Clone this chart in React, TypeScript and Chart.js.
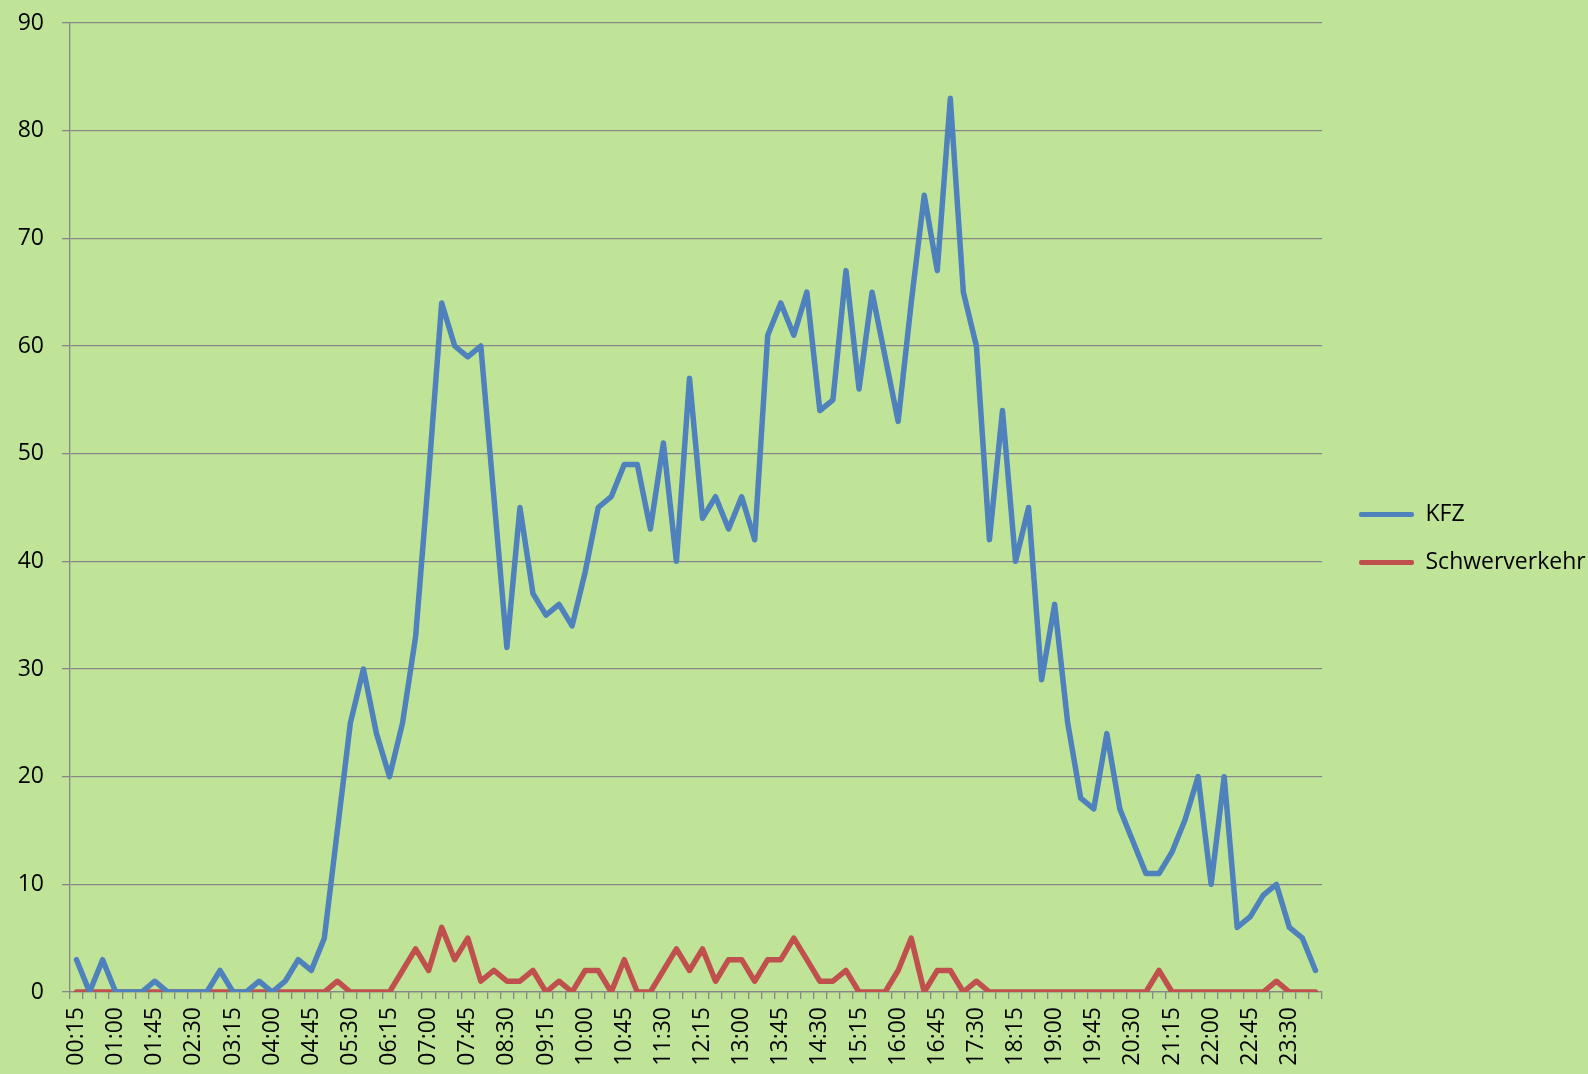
import { useEffect, useRef } from 'react';
import { Chart, registerables } from 'chart.js';

Chart.register(...registerables);

const timeLabels = [
  '00:15', '00:30', '00:45', '01:00', '01:15', '01:30', '01:45', '02:00',
  '02:15', '02:30', '02:45', '03:00', '03:15', '03:30', '03:45', '04:00',
  '04:15', '04:30', '04:45', '05:00', '05:15', '05:30', '05:45', '06:00',
  '06:15', '06:30', '06:45', '07:00', '07:15', '07:30', '07:45', '08:00',
  '08:15', '08:30', '08:45', '09:00', '09:15', '09:30', '09:45', '10:00',
  '10:15', '10:30', '10:45', '11:00', '11:15', '11:30', '11:45', '12:00',
  '12:15', '12:30', '12:45', '13:00', '13:15', '13:30', '13:45', '14:00',
  '14:15', '14:30', '14:45', '15:00', '15:15', '15:30', '15:45', '16:00',
  '16:15', '16:30', '16:45', '17:00', '17:15', '17:30', '17:45', '18:00',
  '18:15', '18:30', '18:45', '19:00', '19:15', '19:30', '19:45', '20:00',
  '20:15', '20:30', '20:45', '21:00', '21:15', '21:30', '21:45', '22:00',
  '22:15', '22:30', '22:45', '23:00', '23:15', '23:30', '23:45', '00:00',
];

const kfz = [
  3, 0, 3, 0, 0, 0, 1, 0, 0, 0, 0, 2, 0, 0, 1, 0, 1, 3, 2, 5,
  15, 25, 30, 24, 20, 25, 33, 48, 64, 60, 59, 60, 46, 32, 45, 37, 35, 36, 34, 39,
  45, 46, 49, 49, 43, 51, 40, 57, 44, 46, 43, 46, 42, 61, 64, 61, 65, 54, 55, 67,
  56, 65, 59, 53, 64, 74, 67, 83, 65, 60, 42, 54, 40, 45, 29, 36, 25, 18, 17, 24,
  17, 14, 11, 11, 13, 16, 20, 10, 20, 6, 7, 9, 10, 6, 5, 2,
];

const schwerverkehr = [
  0, 0, 0, 0, 0, 0, 0, 0, 0, 0, 0, 0, 0, 0, 0, 0, 0, 0, 0, 0,
  1, 0, 0, 0, 0, 2, 4, 2, 6, 3, 5, 1, 2, 1, 1, 2, 0, 1, 0, 2,
  2, 0, 3, 0, 0, 2, 4, 2, 4, 1, 3, 3, 1, 3, 3, 5, 3, 1, 1, 2,
  0, 0, 0, 2, 5, 0, 2, 2, 0, 1, 0, 0, 0, 0, 0, 0, 0, 0, 0, 0,
  0, 0, 0, 2, 0, 0, 0, 0, 0, 0, 0, 0, 1, 0, 0, 0,
];

const seriesNames = ['KFZ', 'Schwerverkehr'];
const seriesColors = ['#4F81BD', '#C0504D'];
const yMin = 0;
const yMax = 90;
const yStep = 10;
const labelEvery = 3;

const FONT = "'Open Sans', sans-serif";
const GRID = '#878787';
const BG = '#C0E497';

export default function App() {
  const ref = useRef<HTMLCanvasElement>(null);

  useEffect(() => {
    Chart.defaults.font.family = FONT;
    const chart = new Chart(ref.current as HTMLCanvasElement, {
      type: 'line',
      data: {
        labels: timeLabels,
        datasets: [kfz, schwerverkehr].map((d, i) => ({
          label: seriesNames[i],
          data: d,
          borderColor: seriesColors[i],
          backgroundColor: seriesColors[i],
          borderWidth: 5.5,
          pointRadius: 0,
          pointHoverRadius: 0,
          tension: 0,
          borderJoinStyle: 'round',
          borderCapStyle: 'round',
          fill: false,
        })),
      },
      options: {
        responsive: false,
        animation: false,
        layout: { padding: { top: 23, left: 0, right: 0, bottom: 0 } },
        plugins: {
          tooltip: { enabled: false },
          legend: {
            position: 'right',
            fullSize: false,
            maxWidth: 254,
            title: { display: true, text: '', padding: 25, font: { size: 10 } },
            labels: {
              boxWidth: 55,
              boxHeight: 5,
              padding: 25,
              color: '#000',
              font: { size: 23, family: FONT },
              generateLabels: (c: any) =>
                c.data.datasets.map((ds: any, i: number) => ({
                  text: ds.label,
                  fillStyle: ds.borderColor,
                  strokeStyle: ds.borderColor,
                  lineWidth: 0,
                  borderRadius: 2,
                  hidden: false,
                  datasetIndex: i,
                  fontColor: '#000',
                })),
            },
          },
        },
        scales: {
          x: {
            offset: true,
            grid: {
              offset: true,
              drawOnChartArea: false,
              drawTicks: true,
              tickLength: 7,
              color: GRID,
              lineWidth: 1.3,
            },
            border: { color: GRID, width: 1.3 },
            ticks: {
              autoSkip: false,
              maxRotation: 90,
              minRotation: 90,
              padding: 8,
              color: '#000',
              font: { size: 23, family: FONT },
              callback: (_v: any, idx: number) => (idx % labelEvery === 0 ? timeLabels[idx] : ''),
            },
            afterFit: (s: any) => {
              s.height = 82;
            },
          },
          y: {
            min: yMin,
            max: yMax,
            grid: { color: GRID, lineWidth: 1.3, tickLength: 8 },
            border: { color: GRID, width: 1.3 },
            ticks: {
              stepSize: yStep,
              padding: 18,
              color: '#000',
              font: { size: 23, family: FONT },
            },
            afterFit: (s: any) => {
              s.width = 70;
              s.paddingTop = 0;
              s.paddingBottom = 0;
            },
          },
          yGap: {
            type: 'linear',
            position: 'right',
            display: true,
            grid: { display: false },
            ticks: { display: false },
            border: { display: false },
            afterFit: (s: any) => {
              s.width = 12;
            },
          },
        },
      } as any,
    });
    return () => chart.destroy();
  }, []);

  return (
    <div
      style={{
        position: 'absolute',
        left: 0,
        top: 0,
        width: 1588,
        height: 1074,
        background: BG,
        overflow: 'hidden',
      }}
    >
      <canvas ref={ref} width={1588} height={1074} style={{ display: 'block', width: 1588, height: 1074 }} />
    </div>
  );
}
